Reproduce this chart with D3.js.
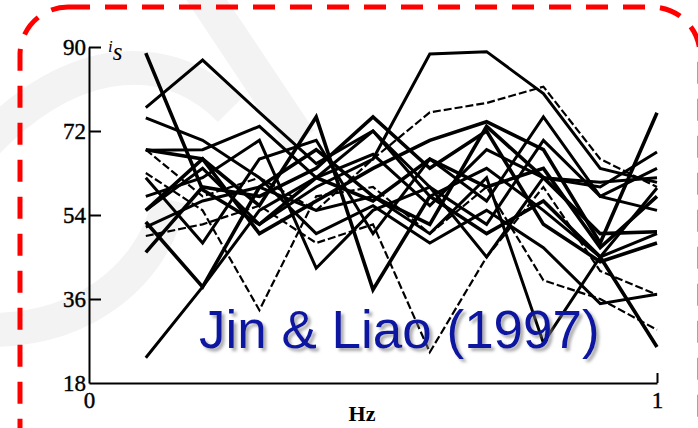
<!DOCTYPE html>
<html>
<head>
<meta charset="utf-8">
<script src="https://cdn.jsdelivr.net/npm/d3@7"></script>
<style>
  html, body { margin: 0; padding: 0; background: #fff; }
  svg { display: block; }
</style>
</head>
<body>
<div id="chart"></div>
<script>
// frequency points (Hz, normalised)
const freqs = [0.1, 0.2, 0.3, 0.4, 0.5, 0.6, 0.7, 0.8, 0.9, 1.0];
const yTicks = [18, 36, 54, 72, 90];
const xTicks = [0, 1];

// one array per trace
const s1  = [88.7, 59.4, 52, 62, 57, 66, 60, 64, 47, 58];
const s2  = [77, 87.2, 76, 65, 72, 58, 64, 55, 45, 50];
const s3  = [55, 64, 52, 60, 66, 88.5, 89, 80, 64, 61];
const s4  = [68, 58, 62, 55, 66, 76, 78, 81.5, 66, 60];
const s5  = [74.8, 70, 62, 50, 56, 48, 55, 47, 35, 37];
const s6  = [23.4, 38.6, 55, 62, 72, 60, 52, 70, 58, 64];
const s7  = [52.5, 38.6, 60, 68, 58, 52, 73, 62, 50, 50.4];
const s8  = [63, 55, 33.6, 58, 60, 50, 60, 40, 36, 29.4];
const s9  = [58, 62, 70, 42.6, 55, 60, 45, 62, 60, 67.5];
const s10 = [68, 66, 56, 75, 38, 58, 50, 57, 45, 25.7];
const s11 = [49.5, 52, 56, 48, 52, 24.6, 45, 60, 42, 36.9];
const s12 = [51.4, 57, 60, 55, 58, 50, 62, 26.6, 45, 59.8];
const s13 = [55, 66, 50, 57, 64, 70, 74, 68, 48, 75.9];
const s14 = [67.9, 68, 73, 62, 67, 56, 68, 62, 61, 62];
const s15 = [62, 48, 66, 70, 50, 66, 57, 75, 58, 55];
const s16 = [46, 60, 58, 64, 75, 64, 72, 52, 44, 48];
const series = [s1, s2, s3, s4, s5, s6, s7, s8, s9, s10, s11, s12, s13, s14, s15, s16];
const dashed = [false, false, false, true, false, false, false, true, false, false, true, false, false, false, false, false];

const width = 698, height = 428;
const serif = 'Liberation Serif, DejaVu Serif, serif';
const svg = d3.select('#chart').append('svg')
  .attr('width', width)
  .attr('height', height);

const defs = svg.append('defs');
const shadow = defs.append('filter').attr('id', 'shadow')
  .attr('x', '-10%').attr('y', '-10%').attr('width', '120%').attr('height', '130%');
shadow.append('feDropShadow')
  .attr('dx', 3).attr('dy', 3).attr('stdDeviation', 1.5)
  .attr('flood-color', '#777').attr('flood-opacity', 0.6);

// faint watermark in the background
const wm = svg.append('g').attr('fill', 'none').attr('stroke', '#f3f3f3').attr('stroke-width', 34);
wm.append('path').attr('d', 'M -20 150 C 60 60, 160 40, 230 110');
wm.append('path').attr('d', 'M -10 330 C 80 330, 150 280, 170 200');
wm.append('path').attr('d', 'M 200 -10 L 300 140');

const x = d3.scaleLinear().domain([0, 1]).range([89, 657]);
const y = d3.scaleLinear().domain([18, 90]).range([383, 47]);

// traces
const line = d3.line()
  .x((d, i) => x(freqs[i]))
  .y(d => y(d));

svg.append('g')
  .attr('class', 'traces')
  .selectAll('path')
  .data(series)
  .enter()
  .append('path')
  .attr('d', line)
  .attr('fill', 'none')
  .attr('stroke', '#000')
  .attr('stroke-width', (d, i) => dashed[i] ? 2.2 : (i % 3 === 0 ? 3.6 : 3))
  .attr('stroke-dasharray', (d, i) => dashed[i] ? '8,3' : null)
  .attr('stroke-linejoin', 'miter');

// axes
const yAxis = svg.append('g')
  .attr('class', 'axis axis-y')
  .attr('transform', `translate(${x(0)}, 0)`)
  .call(d3.axisLeft(y).tickValues(yTicks).tickSizeInner(-12).tickSizeOuter(0).tickPadding(3));

const xAxis = svg.append('g')
  .attr('class', 'axis axis-x')
  .attr('transform', `translate(0, ${y(18)})`)
  .call(d3.axisBottom(x).tickValues(xTicks).tickFormat(d3.format('d')).tickSizeInner(-10).tickSizeOuter(0).tickPadding(9));

[yAxis, xAxis].forEach(ax => {
  ax.attr('font-family', serif).attr('font-size', 23);
  ax.selectAll('path, line').attr('stroke', '#000').attr('stroke-width', 2);
  ax.selectAll('text')
    .style('font-family', serif).style('font-size', '23px')
    .attr('fill', '#000').attr('stroke', '#000').attr('stroke-width', 0.4);
});
yAxis.selectAll('.tick').filter(d => d === 18).select('line').remove();
xAxis.selectAll('.tick').filter(d => d === 0).select('line').remove();

// axis titles
const ylab = svg.append('text')
  .attr('x', 108).attr('y', 60)
  .style('font-family', serif)
  .style('font-style', 'italic')
  .attr('fill', '#000');
ylab.append('tspan').style('font-size', '17px').attr('dy', -8).text('i');
ylab.append('tspan').style('font-size', '25px').attr('dy', 8).text('s');

svg.append('text')
  .attr('x', 362).attr('y', 421)
  .attr('text-anchor', 'middle')
  .style('font-family', serif)
  .style('font-weight', 'bold')
  .style('font-size', '22px')
  .text('Hz');

// citation
svg.append('text')
  .attr('x', 199).attr('y', 348)
  .style('font-family', 'Liberation Sans, Arial, sans-serif')
  .style('font-size', '53px')
  .attr('fill', '#0a14a0')
  .attr('filter', 'url(#shadow)')
  .text('Jin & Liao (1997)');

// dashed frame
svg.append('rect')
  .attr('x', 20).attr('y', 7)
  .attr('width', 680).attr('height', 480)
  .attr('rx', 48).attr('ry', 48)
  .attr('fill', 'none')
  .attr('stroke', '#ff0000')
  .attr('stroke-width', 5)
  .attr('stroke-dasharray', '22,15');
</script>
</body>
</html>
